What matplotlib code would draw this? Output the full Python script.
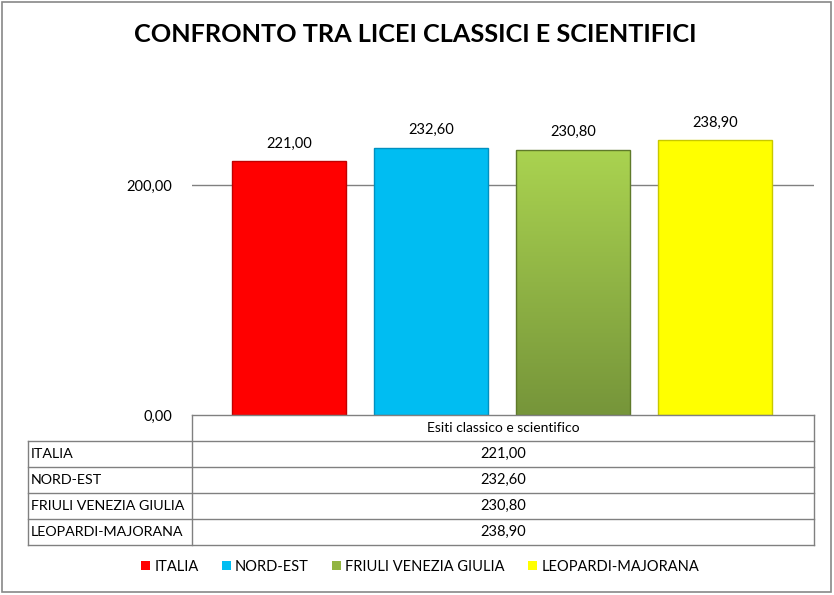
import matplotlib
matplotlib.use('Agg')
import matplotlib.pyplot as plt
import numpy as np
from matplotlib.patches import Patch, Rectangle
from matplotlib.lines import Line2D
from matplotlib.colors import LinearSegmentedColormap

plt.rcParams['font.family'] = ['Liberation Sans Narrow', 'Lato', 'DejaVu Sans']

title = 'CONFRONTO TRA LICEI CLASSICI E SCIENTIFICI'
category = 'Esiti classico e scientifico'
series = ['ITALIA', 'NORD-EST', 'FRIULI VENEZIA GIULIA', 'LEOPARDI-MAJORANA']
values = [221.00, 232.60, 230.80, 238.90]
colors = ['#ff0000', '#00bdf2', '#92b542', '#ffff00']
y_ticks = [0, 200]


def fmt(v):
    # italian decimal comma
    return ('%.2f' % v).replace('.', ',')


W, H = 834, 595
fig = plt.figure(figsize=(W / 100, H / 100), dpi=100)


def fx(px):
    return px / W


def fy(py):
    return 1 - py / H


# outer frame
fig.add_artist(Rectangle((fx(2), fy(592)), fx(829), 590 / H, transform=fig.transFigure,
                         fill=False, edgecolor='#888888', lw=1.2))

ax = fig.add_axes([fx(192), fy(415), fx(814) - fx(192), fy(70) - fy(415)])
ax.set_xlim(0, 4)
ax.set_ylim(0, 300)
for s in ax.spines.values():
    s.set_visible(False)
ax.set_xticks([])
ax.set_yticks(y_ticks)
ax.set_yticklabels([fmt(v) for v in y_ticks], fontsize=10.5)
ax.tick_params(axis='y', length=0, pad=14)
ax.axhline(200, color='#808080', lw=1, zorder=0)

bw = 0.733
step = 0.913
x = 0.257 + step * np.arange(len(values))
bars = ax.bar(x, values, width=bw, align='edge', color=colors, zorder=2,
              edgecolor='none')
# gradient on the green bar, darker at the bottom
grad = np.linspace(0, 1, 256).reshape(-1, 1)
cm_g = LinearSegmentedColormap.from_list('g', ['#76953a', '#aad350'])
im = ax.imshow(grad, cmap=cm_g, origin='lower', aspect='auto',
               extent=(x[2], x[2] + bw, 0, values[2]), zorder=2.5)
im.set_clip_path(bars[2])
# slight dark edge on the bars
for b, c in zip(bars, ['#c00000', '#0090c0', '#5f7a2a', '#c8c800']):
    ax.add_patch(Rectangle(b.get_xy(), b.get_width(), b.get_height(), fill=False,
                           edgecolor=c, lw=1.0, zorder=3))
for xi, v in zip(x, values):
    ax.text(xi + bw / 2, v + 9, fmt(v), ha='center', va='bottom', fontsize=10.5)

fig.text(fx(415), fy(34), title, ha='center', va='center', fontsize=18.2,
         fontweight='bold')

# data table under the axis
gc = '#808080'
rows_y = [415, 441, 467, 493, 519, 545]


def hline(y, x0, x1):
    fig.add_artist(Line2D([fx(x0), fx(x1)], [fy(y), fy(y)], transform=fig.transFigure,
                          color=gc, lw=1))


def vline(xp, y0, y1):
    fig.add_artist(Line2D([fx(xp), fx(xp)], [fy(y0), fy(y1)], transform=fig.transFigure,
                          color=gc, lw=1))


hline(415, 192, 814)
for yy in rows_y[1:]:
    hline(yy, 28, 814)
vline(192, 415, 545)
vline(814, 415, 545)
vline(28, 441, 545)

fig.text(fx(503), fy(428), category, ha='center', va='center', fontsize=10)
for i, (name, v) in enumerate(zip(series, values)):
    yc = (rows_y[i + 1] + rows_y[i + 2]) / 2
    fig.text(fx(31), fy(yc), name, ha='left', va='center', fontsize=10.3)
    fig.text(fx(503), fy(yc), fmt(v), ha='center', va='center', fontsize=10.5)

handles = [Patch(facecolor=c, edgecolor='none') for c in colors]
fig.legend(handles, series, loc='center', bbox_to_anchor=(fx(420), fy(567)), ncol=4,
           frameon=False, fontsize=10.5, handlelength=0.6, handleheight=0.6,
           handletextpad=0.3, columnspacing=1.6)

fig.savefig('out.png', dpi=100)
